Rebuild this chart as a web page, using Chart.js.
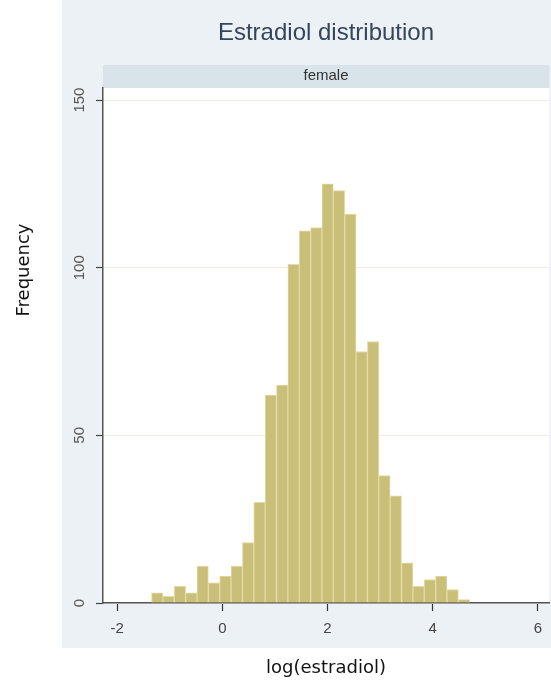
<!DOCTYPE html>
<html>
<head>
<meta charset="utf-8">
<script src="https://cdn.jsdelivr.net/npm/chart.js@4.4.1/dist/chart.umd.min.js"></script>
<style>
  html, body { margin: 0; padding: 0; background: #ffffff; }
  #wrap { position: relative; width: 551px; height: 691px; }
</style>
</head>
<body>
<div id="wrap"><canvas id="hist"></canvas></div>
<script>
// histogram of log(estradiol), female
const binStart = -1.347;
const binWidth = 0.2161;
const counts = [3, 2, 5, 3, 11, 6, 8, 11, 18, 30, 62, 65, 101, 111, 112, 125, 123, 116, 75, 78, 38, 32, 12, 5, 7, 8, 4, 1];
const yTicks = [0, 50, 100, 150];
const xTicks = [-2, 0, 2, 4, 6];
const titleText = "Estradiol distribution";
const stripText = "female";
const yTitle = "Frequency";
const xTitle = "log(estradiol)";

const points = counts.map((c, i) => ({ x: binStart + binWidth * (i + 0.5), y: c }));

// stata-ish background, strip and texts
const decor = {
  id: "decor",
  beforeDraw(chart) {
    const { ctx, chartArea: a } = chart;
    ctx.save();
    ctx.fillStyle = "#ffffff";
    ctx.fillRect(0, 0, chart.width, chart.height);
    ctx.fillStyle = "#ecf1f5";
    ctx.fillRect(62, 0, chart.width - 62, 648);
    ctx.fillStyle = "#d8e3ea";
    ctx.fillRect(a.left, 65, a.right - a.left, a.top - 65);
    ctx.fillStyle = "#ffffff";
    ctx.fillRect(a.left, a.top, a.right - a.left, a.bottom - a.top);
    ctx.restore();
  },
  afterDraw(chart) {
    const { ctx } = chart;
    const y = chart.scales.y;
    const cx = 326;
    ctx.save();
    ctx.textAlign = "center";
    ctx.textBaseline = "middle";

    ctx.fillStyle = "#36465a";
    ctx.font = "24px 'Liberation Sans', Arial, sans-serif";
    ctx.fillText(titleText, cx, 33);

    ctx.fillStyle = "#333333";
    ctx.font = "15px 'Liberation Sans', Arial, sans-serif";
    ctx.fillText(stripText, cx, 76);

    // rotated y tick labels
    ctx.fillStyle = "#555555";
    ctx.font = "15px 'Liberation Sans', Arial, sans-serif";
    yTicks.forEach((t) => {
      ctx.save();
      ctx.translate(80, y.getPixelForValue(t));
      ctx.rotate(-Math.PI / 2);
      ctx.fillText(String(t), 0, 0);
      ctx.restore();
    });

    ctx.fillStyle = "#111111";
    ctx.font = "18px 'DejaVu Sans', Verdana, sans-serif";
    ctx.save();
    ctx.translate(24, 270);
    ctx.rotate(-Math.PI / 2);
    ctx.fillText(yTitle, 0, 0);
    ctx.restore();
    ctx.fillText(xTitle, cx, 668);
    ctx.restore();
  },
};

new Chart(document.getElementById("hist"), {
  type: "bar",
  data: {
    datasets: [{
      data: points,
      backgroundColor: "#c9bf78",
      borderColor: "#e2dba4",
      borderWidth: 1,
      barPercentage: 1,
      categoryPercentage: 1,
      grouped: false,
    }],
  },
  options: {
    responsive: true,
    maintainAspectRatio: false,
    animation: false,
    layout: { padding: { top: 88, right: 0, bottom: 0, left: 0 } },
    plugins: { legend: { display: false }, tooltip: { enabled: false } },
    scales: {
      x: {
        type: "linear",
        min: -2.27,
        max: 6.22,
        offset: false,
        afterFit: (s) => { s.height = 88; },
        afterBuildTicks: (s) => { s.ticks = xTicks.map((v) => ({ value: v })); },
        ticks: {
          color: "#444444",
          padding: 9,
          maxRotation: 0,
          font: { family: "'Liberation Sans', Arial, sans-serif", size: 15 },
        },
        grid: { offset: false, drawOnChartArea: false, drawTicks: true, tickLength: 8, tickColor: "#333333", tickWidth: 1.2 },
        border: { color: "#555555", width: 1.5 },
      },
      y: {
        min: 0,
        max: 153.6,
        afterFit: (s) => { s.width = 103; },
        afterBuildTicks: (s) => { s.ticks = yTicks.map((v) => ({ value: v })); },
        ticks: { display: false },
        grid: { color: "#f1ede3", lineWidth: 1, drawTicks: true, tickLength: 7, tickColor: "#444444", tickWidth: 1.2 },
        border: { color: "#555555", width: 1.5 },
      },
    },
  },
  plugins: [decor],
});
</script>
</body>
</html>
